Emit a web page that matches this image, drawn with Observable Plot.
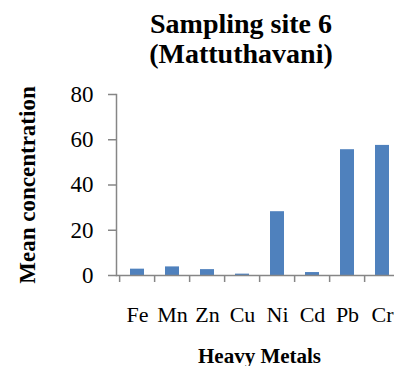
<!DOCTYPE html>
<html>
<head>
<meta charset="utf-8">
<script src="https://cdn.jsdelivr.net/npm/d3@7"></script>
<script src="https://cdn.jsdelivr.net/npm/@observablehq/plot@0.6"></script>
<style>
  html, body { margin: 0; padding: 0; background: #fff; overflow: hidden; }
  #wrap { width: 394px; height: 366px; overflow: hidden; position: relative; }
  #title {
    box-sizing: border-box; width: 394px; height: 76px;
    padding: 9px 0 0 88px; text-align: center;
    font-family: "Liberation Serif", "Times New Roman", serif;
    font-weight: bold; font-size: 28px; line-height: 30px; color: #000;
    white-space: nowrap;
  }
  svg { overflow: hidden; display: block; }
  svg text { font-family: "Liberation Serif", "Times New Roman", serif; }
  svg g[aria-label="x-axis tick label"] { font-size: 22px; }
  svg g[aria-label="y-axis tick label"] { font-size: 23px; }
</style>
</head>
<body>
<div id="wrap">
  <div id="title">Sampling site 6<br>(Mattuthavani)</div>
  <div id="chart"></div>
</div>
<script>
const titleLines = ["Sampling site 6", "(Mattuthavani)"];
const metals = ["Fe", "Mn", "Zn", "Cu", "Ni", "Cd", "Pb", "Cr"];
const meanConcentration = [2.8, 3.8, 2.6, 0.6, 28.2, 1.3, 55.6, 57.5];
const yTicks = [0, 20, 40, 60, 80];
const xTitle = "Heavy Metals";
const yTitle = "Mean concentration";

const data = metals.map((m, i) => ({metal: m, value: meanConcentration[i]}));

const serif = '"Liberation Serif", "Times New Roman", serif';
const axisGray = "#868686";
const barBlue = "#4f81bd";

const W = 394, H = 290;
const mLeft = 116, mTop = 18, mBottom = 91;
const plotRight = 402; // plot area continues past the picture's right edge
const step = (plotRight - mLeft) / metals.length;

const chart = Plot.plot({
  width: W,
  height: H,
  marginLeft: mLeft,
  marginRight: 0,
  marginTop: mTop,
  marginBottom: mBottom,
  style: {background: "#fff", fontFamily: serif, overflow: "hidden"},
  x: {domain: metals, range: [mLeft, plotRight], paddingInner: 0.6, paddingOuter: 0.3},
  y: {domain: [0, 80], ticks: yTicks},
  marks: [
    Plot.barY(data, {x: "metal", y: "value", fill: barBlue}),
    Plot.ruleY([0], {stroke: axisGray, strokeWidth: 1.5}),
    Plot.frame({anchor: "left", stroke: axisGray, strokeWidth: 1.5}),
    // category boundary tick marks
    Plot.axisX({tickSize: 7, dx: -step / 2, stroke: axisGray, strokeWidth: 1.5, text: null, label: null}),
    // category labels
    Plot.axisX({tickSize: 0, tickPadding: 31, fontSize: 22, fontFamily: serif, fill: "#000", label: null}),
    Plot.axisY({ticks: yTicks, tickSize: 8, tickPadding: 15, stroke: axisGray, strokeWidth: 1.5,
                fontSize: 23, fontFamily: serif, fill: "#000", label: null}),
    Plot.text([xTitle], {frameAnchor: "bottom", lineAnchor: "bottom", textAnchor: "middle", dx: 4, dy: 87,
                         fontSize: 21, fontFamily: serif, fontWeight: "bold", fill: "#000"}),
    Plot.text([yTitle], {frameAnchor: "left", lineAnchor: "bottom", textAnchor: "middle", rotate: -90,
                         dx: -82, dy: 0, fontSize: 23, fontFamily: serif, fontWeight: "bold", fill: "#000"})
  ]
});
document.getElementById("chart").appendChild(chart);
</script>
</body>
</html>
